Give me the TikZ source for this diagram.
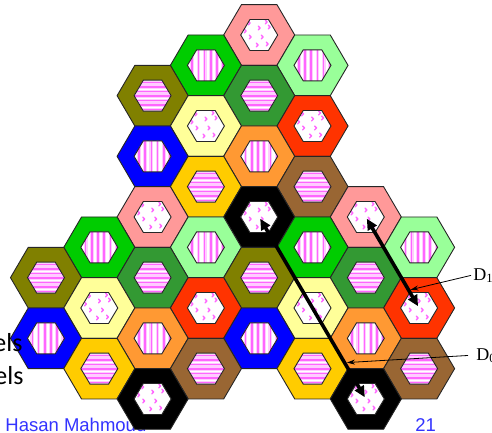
\documentclass[tikz,border=0pt]{standalone}
\usepackage{fontspec}
\setmainfont{Liberation Serif}
\newfontfamily\slidefont{Liberation Sans}
\newfontfamily\bodyfont{Carlito}
\usetikzlibrary{arrows.meta, positioning, calc}
\definecolor{cpink}{HTML}{FF9999}
\definecolor{cgreen}{HTML}{00CC00}
\definecolor{clime}{HTML}{99FF99}
\definecolor{colive}{HTML}{808000}
\definecolor{cdkgreen}{HTML}{339933}
\definecolor{cyellow}{HTML}{FFFF99}
\definecolor{cred}{HTML}{FF3300}
\definecolor{cblue}{HTML}{0000FF}
\definecolor{corange}{HTML}{FF9933}
\definecolor{cgold}{HTML}{FFCC00}
\definecolor{cbrown}{HTML}{996633}
\definecolor{cblack}{HTML}{000000}
\definecolor{cmag}{HTML}{FF66FF}
\definecolor{cpale}{HTML}{FFCCFF}
\definecolor{cslide}{HTML}{3333FF}
\tikzset{
  every picture/.style={line width=0.9pt},
  ring/.style={draw=black!85, fill=#1, line width=0.9pt},
  core/.style={draw=black!85, line width=0.9pt},
  stripe/.style={draw=cmag, line width=1.6pt},
  halo/.style={draw=cpale, line width=3.8pt},
  speck/.style={draw=cmag, line width=1.4pt, line cap=round, line join=round},
  reuse/.style={{Triangle[length=11pt, width=10pt]}-{Triangle[length=11pt, width=10pt]}, line width=3.6pt, shorten <=2pt, shorten >=2pt},
  pointer/.style={-{Stealth[length=8pt, width=5pt]}, line width=0.8pt},
  slide/.style={font=\slidefont\fontsize{18.5}{20}\selectfont, text=cslide, inner sep=0pt, anchor=base west},
  leftover/.style={font=\bodyfont\fontsize{26}{28}\selectfont, anchor=base east, inner sep=0pt},
  dlabel/.style={font=\fontsize{18}{20}\selectfont, inner sep=2pt, anchor=base west},
}

\begin{document}
\begin{tikzpicture}[x=1pt, y=-1pt]
  \newcommand{\hexagon}[2]{(-#1,0) -- (-#1/2,-#2) -- (#1/2,-#2) -- (#1,0) -- (#1/2,#2) -- (-#1/2,#2) -- cycle}
  \newcommand{\stripesv}{\foreach \s in {-13.7,-7.5,-1.3,4.9,11.1,17.3} {\draw[halo] (\s,-17) -- (\s,17); \draw[stripe] (\s,-17) -- (\s,17);}}
  \newcommand{\stripesh}{\foreach \s in {-13,-8.5,-4,0.5,5,9.5,14} {\draw[halo] (-20,\s) -- (20,\s); \draw[stripe] (-20,\s) -- (20,\s);}}
  \newcommand{\speckles}{\foreach \a/\b in {-9/-12,1/-7,-8/2,4/2,-1/10,9/9,-13/-4,11/-8,8/-13} {\draw[speck] ({\a-1.8},{\b-1.8}) -- (\a,\b) -- ({\a-1.8},{\b+1.8});}}
  \useasboundingbox (0,0) rectangle (492,433);

  % slide footer, partly under the cells
  \node[slide] (author) at (5,431) {Hasan Mahmoud};
  \node[slide] (page) at (415,431) {21};

  % cells: column/row/colour/fill
  \foreach \c/\r/\col/\pat in {
      4/0/cpink/speckles, 3/1/cgreen/stripesv, 5/1/clime/stripesv,
      2/2/colive/stripesh, 4/2/cdkgreen/stripesh, 3/3/cyellow/speckles, 5/3/cred/speckles,
      2/4/cblue/stripesv, 4/4/corange/stripesv, 3/5/cgold/stripesh, 5/5/cbrown/stripesh,
      2/6/cpink/speckles, 4/6/cblack/speckles, 6/6/cpink/speckles,
      1/7/cgreen/stripesv, 3/7/clime/stripesv, 5/7/cgreen/stripesv, 7/7/clime/stripesv,
      0/8/colive/stripesh, 2/8/cdkgreen/stripesh, 4/8/colive/stripesh, 6/8/cdkgreen/stripesh,
      1/9/cyellow/speckles, 3/9/cred/speckles, 5/9/cyellow/speckles, 7/9/cred/speckles,
      0/10/cblue/stripesv, 2/10/corange/stripesv, 4/10/cblue/stripesv, 6/10/corange/stripesv,
      1/11/cgold/stripesh, 3/11/cbrown/stripesh, 5/11/cgold/stripesh, 7/11/cbrown/stripesh,
      2/12/cblack/speckles, 6/12/cblack/speckles} {
    \coordinate (c\c-\r) at ({46+53.3*\c},{35+30.33*\r});
    \begin{scope}[shift={(c\c-\r)}]
      \draw[ring=\col] \hexagon{35.53}{30.33};
      \fill[white] \hexagon{18.5}{15.5};
      \begin{scope}
        \clip \hexagon{18.5}{15.5};
        \csname\pat\endcsname
      \end{scope}
      \draw[core] \hexagon{18.5}{15.5};
    \end{scope}
  }

  % leftover slide text
  \node[leftover] (elsA) at (23,351) {els};
  \node[leftover] (elsB) at (24,384) {els};

  % reuse distances
  \draw[reuse] (c4-6) -- (c6-12);
  \draw[reuse] (c6-6) -- (c7-9);

  \node[dlabel] (dOne) at (471,280) {D\textsubscript{1}};
  \node[dlabel] (dZero) at (474,360) {D\textsubscript{0}};
  \coordinate (onOne) at ($(c6-6)!0.8!(c7-9)$);
  \coordinate (onZero) at ($(c4-6)!0.8!(c6-12)$);
  \draw[pointer] (dOne.west) -- ([xshift=2pt]onOne);
  \draw[pointer] ([xshift=-6pt]dZero.west) -- ([xshift=2.5pt]onZero);
\end{tikzpicture}
\end{document}
